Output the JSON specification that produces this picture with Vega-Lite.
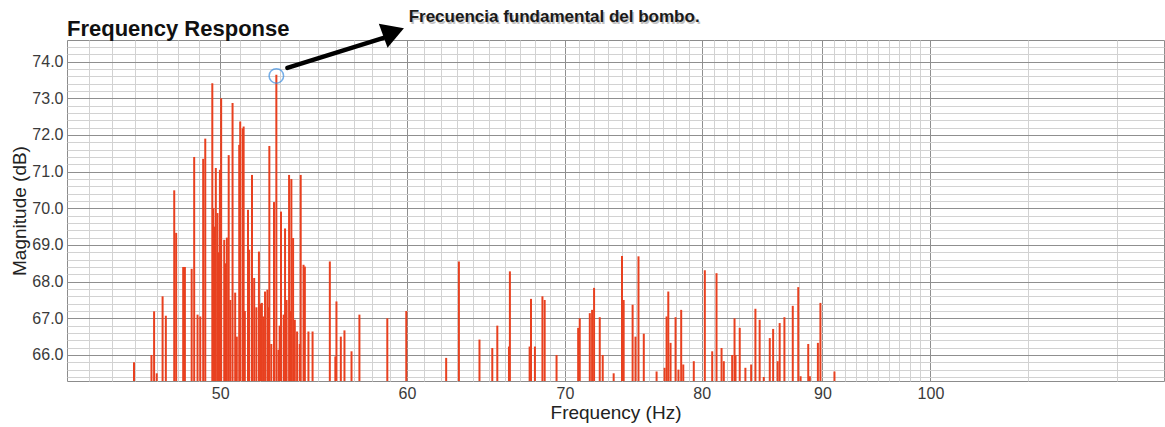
{
  "$schema": "https://vega.github.io/schema/vega-lite/v6.json",
  "autosize": "none",
  "width": 1097,
  "height": 341,
  "padding": {"left": 67, "top": 40, "right": 1, "bottom": 46},
  "background": "white",
  "title": {
    "text": "Frequency Response",
    "anchor": "start",
    "frame": "group",
    "font": "Liberation Sans",
    "fontSize": 22,
    "fontWeight": "bold",
    "color": "#111111",
    "offset": 3,
    "dy": 36
  },
  "config": {
    "view": {"stroke": "#8c8c8c", "strokeWidth": 1},
    "font": "Liberation Sans"
  },
  "datasets": {
    "spectrum": [
      {"freq": 45.97, "mag": 65.8}, {"freq": 46.76, "mag": 66.0}, {"freq": 46.88, "mag": 67.19},
      {"freq": 47.0, "mag": 65.5}, {"freq": 47.27, "mag": 67.6}, {"freq": 47.42, "mag": 67.07},
      {"freq": 47.81, "mag": 70.49}, {"freq": 47.9, "mag": 69.33}, {"freq": 48.23, "mag": 68.4},
      {"freq": 48.31, "mag": 68.4}, {"freq": 48.63, "mag": 68.35}, {"freq": 48.75, "mag": 71.4},
      {"freq": 48.91, "mag": 67.1}, {"freq": 49.04, "mag": 67.05}, {"freq": 49.18, "mag": 71.35},
      {"freq": 49.28, "mag": 71.9}, {"freq": 49.62, "mag": 73.41}, {"freq": 49.67, "mag": 70.0},
      {"freq": 49.73, "mag": 69.5}, {"freq": 49.79, "mag": 71.1}, {"freq": 49.87, "mag": 69.87},
      {"freq": 49.91, "mag": 68.8}, {"freq": 49.99, "mag": 71.05}, {"freq": 50.05, "mag": 73.0},
      {"freq": 50.2, "mag": 69.14}, {"freq": 50.25, "mag": 68.5}, {"freq": 50.33, "mag": 69.2},
      {"freq": 50.42, "mag": 71.45}, {"freq": 50.5, "mag": 67.5}, {"freq": 50.61, "mag": 72.87},
      {"freq": 50.74, "mag": 67.7}, {"freq": 50.82, "mag": 66.5}, {"freq": 50.94, "mag": 71.73},
      {"freq": 50.99, "mag": 72.37}, {"freq": 51.11, "mag": 72.18}, {"freq": 51.16, "mag": 72.23},
      {"freq": 51.22, "mag": 67.2}, {"freq": 51.38, "mag": 69.96}, {"freq": 51.44, "mag": 68.87},
      {"freq": 51.58, "mag": 70.91}, {"freq": 51.69, "mag": 68.1}, {"freq": 51.8, "mag": 67.3},
      {"freq": 51.93, "mag": 68.82}, {"freq": 52.0, "mag": 67.4}, {"freq": 52.08, "mag": 67.42},
      {"freq": 52.15, "mag": 67.05}, {"freq": 52.24, "mag": 67.73}, {"freq": 52.36, "mag": 67.78},
      {"freq": 52.41, "mag": 67.3}, {"freq": 52.46, "mag": 71.7}, {"freq": 52.56, "mag": 66.3},
      {"freq": 52.7, "mag": 70.17}, {"freq": 52.82, "mag": 73.64}, {"freq": 52.93, "mag": 66.14},
      {"freq": 52.99, "mag": 66.8}, {"freq": 53.06, "mag": 69.91}, {"freq": 53.2, "mag": 67.1},
      {"freq": 53.27, "mag": 69.45}, {"freq": 53.35, "mag": 67.5}, {"freq": 53.48, "mag": 70.91},
      {"freq": 53.56, "mag": 67.2}, {"freq": 53.6, "mag": 70.8}, {"freq": 53.69, "mag": 69.19},
      {"freq": 53.78, "mag": 66.96}, {"freq": 53.9, "mag": 66.64}, {"freq": 54.04, "mag": 66.3},
      {"freq": 54.09, "mag": 70.91}, {"freq": 54.24, "mag": 68.46}, {"freq": 54.31, "mag": 68.41},
      {"freq": 54.5, "mag": 66.64}, {"freq": 54.72, "mag": 66.64}, {"freq": 55.65, "mag": 68.55},
      {"freq": 55.95, "mag": 65.96}, {"freq": 56.01, "mag": 67.46}, {"freq": 56.25, "mag": 66.5},
      {"freq": 56.45, "mag": 66.67}, {"freq": 56.84, "mag": 66.1}, {"freq": 57.28, "mag": 67.1},
      {"freq": 58.86, "mag": 67.0}, {"freq": 59.96, "mag": 67.2}, {"freq": 62.34, "mag": 65.92},
      {"freq": 63.12, "mag": 68.55}, {"freq": 64.4, "mag": 66.42}, {"freq": 65.21, "mag": 66.19},
      {"freq": 65.53, "mag": 66.8}, {"freq": 66.28, "mag": 66.23}, {"freq": 66.34, "mag": 68.28},
      {"freq": 67.63, "mag": 66.23}, {"freq": 67.72, "mag": 67.53}, {"freq": 67.98, "mag": 66.23},
      {"freq": 68.48, "mag": 67.6}, {"freq": 68.63, "mag": 67.5}, {"freq": 69.43, "mag": 66.0},
      {"freq": 70.91, "mag": 66.74}, {"freq": 71.02, "mag": 67.0}, {"freq": 71.72, "mag": 67.14},
      {"freq": 71.88, "mag": 67.23}, {"freq": 72.02, "mag": 67.83}, {"freq": 72.42, "mag": 67.03},
      {"freq": 72.63, "mag": 66.0}, {"freq": 73.41, "mag": 65.5}, {"freq": 74.01, "mag": 68.7},
      {"freq": 74.13, "mag": 67.5}, {"freq": 74.78, "mag": 67.37}, {"freq": 74.99, "mag": 66.5},
      {"freq": 75.21, "mag": 68.69}, {"freq": 75.6, "mag": 66.58}, {"freq": 76.55, "mag": 65.55},
      {"freq": 77.15, "mag": 65.65}, {"freq": 77.3, "mag": 67.05}, {"freq": 77.43, "mag": 67.73},
      {"freq": 77.6, "mag": 66.33}, {"freq": 77.98, "mag": 67.03}, {"freq": 78.2, "mag": 65.6},
      {"freq": 78.41, "mag": 67.23}, {"freq": 78.57, "mag": 65.74}, {"freq": 79.38, "mag": 65.83},
      {"freq": 80.24, "mag": 68.31}, {"freq": 80.82, "mag": 66.1}, {"freq": 81.16, "mag": 68.23},
      {"freq": 81.56, "mag": 66.19}, {"freq": 81.74, "mag": 65.83}, {"freq": 82.41, "mag": 66.0},
      {"freq": 82.6, "mag": 67.0}, {"freq": 82.68, "mag": 66.0}, {"freq": 83.02, "mag": 66.74},
      {"freq": 83.48, "mag": 65.65}, {"freq": 83.95, "mag": 65.74}, {"freq": 84.3, "mag": 67.26},
      {"freq": 84.65, "mag": 66.96}, {"freq": 84.99, "mag": 65.4}, {"freq": 85.49, "mag": 66.46},
      {"freq": 85.77, "mag": 66.71}, {"freq": 86.15, "mag": 65.83}, {"freq": 86.32, "mag": 66.87},
      {"freq": 86.72, "mag": 67.03}, {"freq": 87.43, "mag": 67.34}, {"freq": 87.9, "mag": 67.85},
      {"freq": 88.1, "mag": 65.42}, {"freq": 88.76, "mag": 66.3}, {"freq": 88.9, "mag": 65.42},
      {"freq": 89.6, "mag": 66.33}, {"freq": 89.82, "mag": 67.42}, {"freq": 91.06, "mag": 65.55}
    ],
    "note": [
      {
        "label": "Frecuencia fundamental del bombo.",
        "peakFreq": 52.82, "peakMag": 73.61,
        "tailFreq": 53.39, "tailMag": 73.83,
        "shaftFreq": 58.65, "shaftMag": 74.65,
        "headFreq": 59.22, "headMag": 74.81,
        "textFreq": 60.1, "textMag": 75.09
      }
    ]
  },
  "layer": [
    {
      "data": {"name": "spectrum"},
      "mark": {"type": "rule", "color": "#e8401f", "strokeWidth": 2},
      "encoding": {
        "x": {
          "field": "freq",
          "type": "quantitative",
          "scale": {"type": "log", "domain": [43.06, 125.6], "nice": false},
          "axis": {
            "title": "Frequency (Hz)",
            "values": [44, 45, 46, 47, 48, 49, 50, 51, 52, 53, 54, 55, 56, 57, 58, 59, 60, 61, 62, 63, 64, 65, 66, 67, 68, 69, 70, 71, 72, 73, 74, 75, 76, 77, 78, 79, 80, 81, 82, 83, 84, 85, 86, 87, 88, 89, 90, 91, 92, 93, 94, 95, 96, 97, 98, 99, 100, 110, 120],
            "tickCount": 500,
            "labelExpr": "datum.value % 10 === 0 && datum.value <= 100 ? format(datum.value, 'd') : ''",
            "labelOverlap": false,
            "labelFlush": false,
            "grid": true,
            "gridColor": {"condition": {"test": "datum.value % 10 === 0 && datum.value <= 100", "value": "#8f8f8f"}, "value": "#d2d2d2"},
            "gridWidth": 1,
            "ticks": false,
            "domain": false,
            "labelFontSize": 16,
            "labelColor": "#3a3a3a",
            "labelPadding": 4,
            "titleFontSize": 19,
            "titleFontWeight": "normal",
            "titleColor": "#222222",
            "titlePadding": 2
          }
        },
        "y": {
          "field": "mag",
          "type": "quantitative",
          "scale": {"domain": [65.29, 74.59], "nice": false, "zero": false},
          "axis": {
            "title": "Magnitude (dB)",
            "values": [65.4, 65.6, 65.8, 66, 66.2, 66.4, 66.6, 66.8, 67, 67.2, 67.4, 67.6, 67.8, 68, 68.2, 68.4, 68.6, 68.8, 69, 69.2, 69.4, 69.6, 69.8, 70, 70.2, 70.4, 70.6, 70.8, 71, 71.2, 71.4, 71.6, 71.8, 72, 72.2, 72.4, 72.6, 72.8, 73, 73.2, 73.4, 73.6, 73.8, 74, 74.2, 74.4],
            "tickCount": 500,
            "labelExpr": "abs(datum.value - round(datum.value)) < 0.01 ? format(datum.value, '.1f') : ''",
            "labelOverlap": false,
            "labelFlush": false,
            "grid": true,
            "gridColor": {"condition": {"test": "abs(datum.value - round(datum.value)) < 0.01", "value": "#8f8f8f"}, "value": "#d2d2d2"},
            "gridWidth": 1,
            "ticks": false,
            "domain": false,
            "labelFontSize": 16,
            "labelColor": "#3a3a3a",
            "labelPadding": 4,
            "titleFontSize": 19,
            "titleFontWeight": "normal",
            "titleColor": "#222222",
            "titlePadding": 2
          }
        },
        "y2": {"datum": 65.29}
      }
    },
    {
      "data": {"name": "note"},
      "mark": {"type": "point", "shape": "circle", "filled": false, "size": 210, "stroke": "#3d8ee0", "strokeWidth": 1.5},
      "encoding": {
        "x": {"field": "peakFreq", "type": "quantitative"},
        "y": {"field": "peakMag", "type": "quantitative"}
      }
    },
    {
      "data": {"name": "note"},
      "mark": {"type": "rule", "color": "#000000", "strokeWidth": 4.5, "strokeCap": "round"},
      "encoding": {
        "x": {"field": "tailFreq", "type": "quantitative"},
        "y": {"field": "tailMag", "type": "quantitative"},
        "x2": {"field": "shaftFreq"},
        "y2": {"field": "shaftMag"}
      }
    },
    {
      "data": {"name": "note"},
      "mark": {"type": "point", "shape": "triangle-up", "filled": true, "size": 650, "color": "#000000", "opacity": 1, "angle": 70},
      "encoding": {
        "x": {"field": "headFreq", "type": "quantitative"},
        "y": {"field": "headMag", "type": "quantitative"}
      }
    },
    {
      "data": {"name": "note"},
      "mark": {"type": "text", "align": "left", "baseline": "alphabetic", "font": "Liberation Sans", "fontSize": 17, "fontWeight": "bold", "color": "#777777", "opacity": 0.45, "dx": 1.5, "dy": 2},
      "encoding": {
        "x": {"field": "textFreq", "type": "quantitative"},
        "y": {"field": "textMag", "type": "quantitative"},
        "text": {"field": "label"}
      }
    },
    {
      "data": {"name": "note"},
      "mark": {"type": "text", "align": "left", "baseline": "alphabetic", "font": "Liberation Sans", "fontSize": 17, "fontWeight": "bold", "color": "#1a1a1a"},
      "encoding": {
        "x": {"field": "textFreq", "type": "quantitative"},
        "y": {"field": "textMag", "type": "quantitative"},
        "text": {"field": "label"}
      }
    }
  ]
}
